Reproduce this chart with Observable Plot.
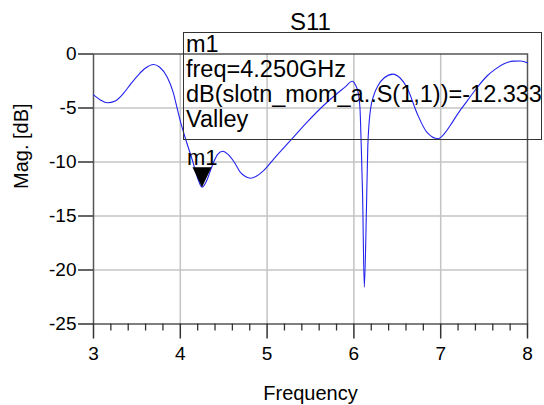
<!DOCTYPE html>
<html>
<head>
<meta charset="utf-8">
<script src="https://cdn.jsdelivr.net/npm/d3@7"></script>
<script src="https://cdn.jsdelivr.net/npm/@observablehq/plot@0.6"></script>
<style>
  html, body { margin: 0; padding: 0; background: #fff; overflow: hidden; }
  #wrap { position: relative; width: 544px; height: 405px; overflow: hidden; font-family: "Liberation Sans", Arial, sans-serif; }
  #mbox { position: absolute; left: 183px; top: 32px; width: 357px; height: 106px; border: 1.5px solid #333; box-sizing: content-box; }
  #mtext { position: absolute; left: 186px; top: 32px; font-size: 23.5px; line-height: 25px; color: #000; white-space: nowrap; }
</style>
</head>
<body>
<div id="wrap"></div>
<script>
const freq = [3.00,3.08,3.16,3.25,3.34,3.43,3.52,3.60,3.69,3.76,3.85,3.92,3.96,4.01,4.06,4.14,4.20,4.25,4.30,4.37,4.43,4.49,4.55,4.62,4.69,4.75,4.81,4.88,4.96,5.10,5.27,5.45,5.65,5.80,5.90,5.98,6.02,6.05,6.07,6.085,6.10,6.12,6.145,6.16,6.19,6.23,6.28,6.35,6.45,6.53,6.61,6.73,6.84,6.97,7.04,7.11,7.20,7.31,7.42,7.54,7.63,7.73,7.84,7.92,8.00];
const magDB = [-3.78,-4.25,-4.52,-4.35,-3.7,-2.76,-1.9,-1.3,-0.97,-1.2,-2.15,-3.6,-4.9,-6.5,-7.85,-9.86,-11.5,-12.33,-11.8,-10.3,-9.3,-9.0,-9.3,-10.0,-10.94,-11.35,-11.5,-11.3,-10.8,-9.5,-8.0,-6.4,-4.77,-3.7,-3.05,-2.52,-2.9,-3.6,-5.0,-8.6,-13.0,-21.6,-14.2,-8.6,-5.2,-3.8,-2.9,-2.2,-1.86,-2.2,-3.07,-5.54,-7.24,-7.85,-7.4,-6.62,-5.5,-4.3,-3.1,-1.99,-1.4,-0.91,-0.66,-0.65,-0.82];
const xTicks = [3,4,5,6,7,8];
const xMinor = [3.2,3.4,3.6,3.8,4.2,4.4,4.6,4.8,5.2,5.4,5.6,5.8,6.2,6.4,6.6,6.8,7.2,7.4,7.6,7.8];
const yTicks = [0,-5,-10,-15,-20,-25];
const xGrid = [4,5,6,7];
const yGrid = [-5,-10,-15,-20];
const markerName = "m1";
const markerFreq = 4.25;
const markerDB = -12.333;
const markerLines = ["m1", "freq=4.250GHz", "dB(slotn_mom_a..S(1,1))=-12.333", "Valley"];
const title = "S11";
const xLabel = "Frequency";
const yLabel = "Mag. [dB]";

const data = freq.map((f, i) => ({f, db: magDB[i]}));
const marker = [{f: markerFreq, db: markerDB, name: markerName}];

const downTri = {
  draw(ctx) {
    ctx.moveTo(0, 0);
    ctx.lineTo(-9.5, -20);
    ctx.lineTo(9.5, -20);
    ctx.closePath();
  }
};

const chart = Plot.plot({
  width: 544,
  height: 405,
  marginLeft: 93,
  marginRight: 17,
  marginTop: 53.5,
  marginBottom: 81.5,
  style: {fontFamily: "'Liberation Sans', Arial, sans-serif", fontSize: "19px", color: "#000", background: "#fff"},
  x: {domain: [3, 8]},
  y: {domain: [-25, 0]},
  marks: [
    Plot.gridX(xGrid, {stroke: "#c4c4c4", strokeOpacity: 1, strokeWidth: 1.5}),
    Plot.gridY(yGrid, {stroke: "#c4c4c4", strokeOpacity: 1, strokeWidth: 1.5}),
    Plot.frame({stroke: "#555", strokeWidth: 1.5}),
    Plot.axisX({ticks: xMinor, tickSize: 7, tickFormat: () => "", label: null, stroke: "#333", strokeWidth: 1.3}),
    Plot.axisX({ticks: xTicks, tickSize: 15, tickPadding: 7, tickFormat: d => String(d), label: null, stroke: "#333", strokeWidth: 1.5, fontSize: 19}),
    Plot.axisY({ticks: yTicks, tickSize: 15, tickPadding: 2, tickFormat: d => String(d), label: null, stroke: "#333", strokeWidth: 1.5, fontSize: 19}),
    Plot.line(data, {x: "f", y: "db", stroke: "#2222ee", strokeWidth: 1.1, curve: "monotone-x"}),
    Plot.dot(marker, {x: "f", y: "db", symbol: downTri, fill: "#000", stroke: "none", r: 1}),
    Plot.text(marker, {x: "f", y: "db", text: "name", dx: -15, dy: -22, textAnchor: "start", lineAnchor: "bottom", fontSize: 22, fill: "#000"}),
    Plot.text([title], {frameAnchor: "top", dy: -41, fontSize: 24, fill: "#000"}),
    Plot.text([xLabel], {frameAnchor: "bottom", dy: 76, fontSize: 20, fill: "#000"}),
    Plot.text([yLabel], {frameAnchor: "left", dx: -72, rotate: -90, fontSize: 20, fill: "#000"})
  ]
});

const wrap = document.getElementById("wrap");
wrap.appendChild(chart);
const box = document.createElement("div");
box.id = "mbox";
wrap.appendChild(box);
const txt = document.createElement("div");
txt.id = "mtext";
markerLines.forEach(s => { const d = document.createElement("div"); d.textContent = s; txt.appendChild(d); });
wrap.appendChild(txt);
</script>
</body>
</html>
